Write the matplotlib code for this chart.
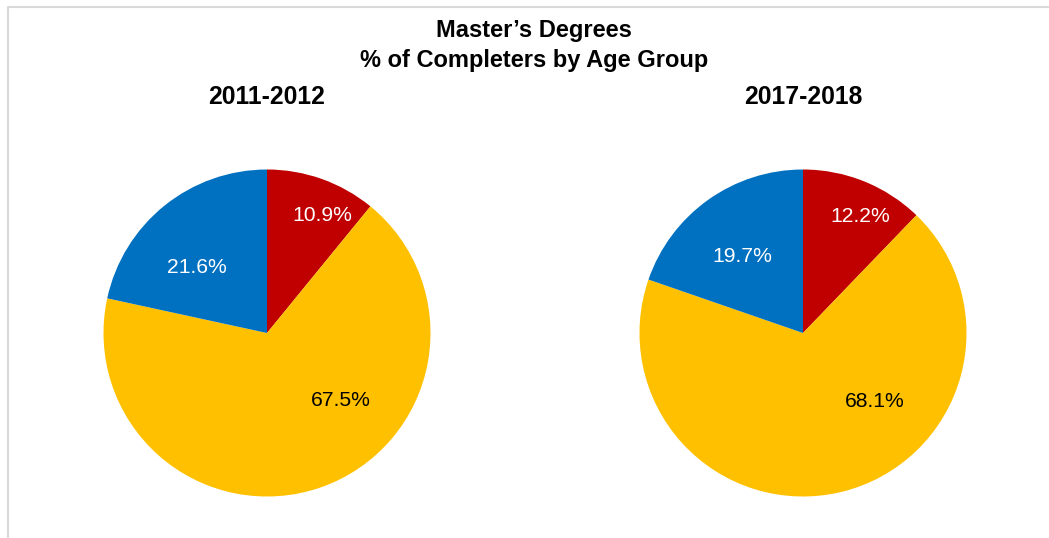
import matplotlib.pyplot as plt
from matplotlib.lines import Line2D
import numpy as np

plt.rcParams['font.family'] = ['Liberation Sans', 'DejaVu Sans']

title_lines = ["Master\u2019s Degrees", "% of Completers by Age Group"]
years = ["2011-2012", "2017-2018"]
groups = ["Group A", "Group B", "Group C"]
values_2011 = [10.9, 67.5, 21.6]
values_2017 = [12.2, 68.1, 19.7]
colors = ["#C00000", "#FFC000", "#0070C0"]
text_colors = ["white", "black", "white"]

# label offsets (fraction of radius) per chart, as placed in the reference
label_pos = [
    [(0.34, 0.72), (0.45, -0.41), (-0.43, 0.40)],
    [(0.35, 0.71), (0.44, -0.42), (-0.37, 0.47)],
]

W, H = 1049, 538
fig = plt.figure(figsize=(W / 100, H / 100), dpi=100)

# border (left and top only)
fig.add_artist(Line2D([7.5 / W, 7.5 / W, 1.0], [0, 1 - 6.5 / H, 1 - 6.5 / H],
                      transform=fig.transFigure, color="#d9d9d9", lw=1.5))

fig.text(534 / W, 1 - 31 / H, title_lines[0], ha="center", va="center",
         fontsize=17, fontweight="bold")
fig.text(534 / W, 1 - 60 / H, title_lines[1], ha="center", va="center",
         fontsize=17, fontweight="bold")

centers = [(267, 333), (803, 333)]
r = 163.5
for i, (vals, yr) in enumerate(zip([values_2011, values_2017], years)):
    cx, cy = centers[i]
    ax = fig.add_axes([(cx - r) / W, 1 - (cy + r) / H, 2 * r / W, 2 * r / H])
    wedges, _ = ax.pie(vals, colors=colors, startangle=90, counterclock=False,
                       radius=1.0)
    ax.set_xlim(-1, 1)
    ax.set_ylim(-1, 1)
    ax.set_aspect("equal")
    ax.axis("off")
    for j, v in enumerate(vals):
        px, py = label_pos[i][j]
        ax.text(px, py, f"{v:.1f}%", ha="center", va="center",
                fontsize=15.2, color=text_colors[j])
    fig.text(cx / W, 1 - 97 / H, yr, ha="center", va="center",
             fontsize=17.8, fontweight="bold")

fig.savefig("out.png", dpi=100)
